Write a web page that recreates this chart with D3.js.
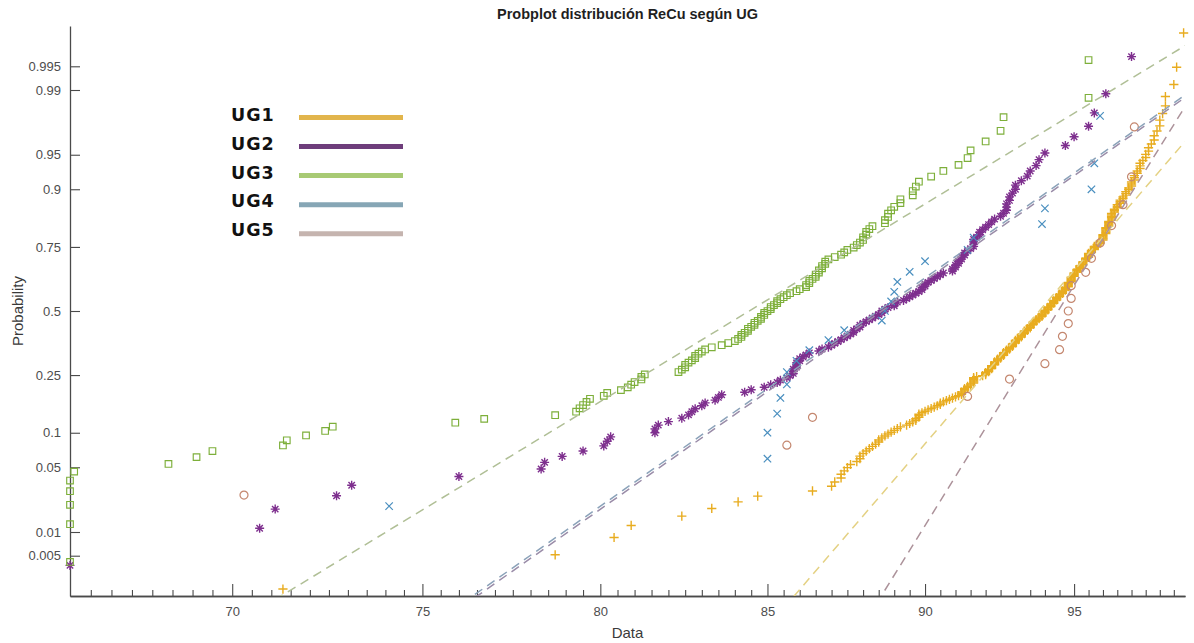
<!DOCTYPE html>
<html>
<head>
<meta charset="utf-8">
<script src="https://cdn.jsdelivr.net/npm/d3@7"></script>
<style>
  html, body { margin: 0; padding: 0; background: #fff; }
  svg { display: block; font-family: "Liberation Sans", Arial, Helvetica, sans-serif; }
</style>
</head>
<body>
<svg id="chart" width="1194" height="643"></svg>
<script>
// ---- sample values per group (ReCu, sorted ascending) ----
const groups = ["UG1", "UG2", "UG3", "UG4", "UG5"];

const ug1 = [71.3, 78.7, 80.4, 80.9, 82.4, 83.3, 84.1, 84.7, 86.4, 87.0,
  87.1, 87.3, 87.3, 87.4, 87.5, 87.6, 87.8, 87.9, 87.9, 88.0,
  88.1, 88.2, 88.3, 88.4, 88.5, 88.5, 88.6, 88.7, 88.8, 88.9,
  89.0, 89.1, 89.2, 89.4, 89.5, 89.6, 89.7, 89.7, 89.8, 89.8,
  89.8, 89.9, 90.0, 90.1, 90.2, 90.3, 90.4, 90.5, 90.5, 90.6,
  90.7, 90.8, 90.9, 91.0, 91.1, 91.2, 91.2, 91.2, 91.3, 91.3,
  91.3, 91.4, 91.4, 91.5, 91.5, 91.6, 91.6, 91.6, 91.6, 91.6,
  91.6, 91.7, 91.9, 92.0, 92.0, 92.0, 92.1, 92.1, 92.1, 92.2,
  92.2, 92.2, 92.2, 92.3, 92.3, 92.3, 92.3, 92.4, 92.4, 92.4,
  92.5, 92.5, 92.5, 92.6, 92.6, 92.6, 92.6, 92.7, 92.7, 92.7,
  92.8, 92.8, 92.8, 92.9, 92.9, 92.9, 92.9, 93.0, 93.0, 93.0,
  93.0, 93.1, 93.1, 93.1, 93.2, 93.2, 93.2, 93.2, 93.3, 93.3,
  93.3, 93.3, 93.4, 93.4, 93.4, 93.5, 93.5, 93.5, 93.5, 93.6,
  93.6, 93.6, 93.6, 93.7, 93.7, 93.7, 93.8, 93.8, 93.8, 93.9,
  93.9, 93.9, 93.9, 94.0, 94.0, 94.0, 94.0, 94.1, 94.1, 94.1,
  94.1, 94.2, 94.2, 94.2, 94.2, 94.3, 94.3, 94.3, 94.3, 94.4,
  94.4, 94.4, 94.4, 94.5, 94.5, 94.5, 94.5, 94.6, 94.6, 94.6,
  94.6, 94.7, 94.7, 94.7, 94.7, 94.8, 94.8, 94.8, 94.8, 94.8,
  94.8, 94.9, 94.9, 94.9, 94.9, 94.9, 94.9, 95.0, 95.0, 95.0,
  95.0, 95.0, 95.1, 95.1, 95.1, 95.1, 95.2, 95.2, 95.2, 95.2,
  95.3, 95.3, 95.3, 95.3, 95.4, 95.4, 95.4, 95.4, 95.5, 95.5,
  95.5, 95.5, 95.5, 95.6, 95.6, 95.6, 95.7, 95.7, 95.7, 95.7,
  95.8, 95.8, 95.9, 95.9, 95.9, 96.0, 96.0, 96.0, 96.0, 96.0,
  96.0, 96.1, 96.1, 96.1, 96.1, 96.1, 96.1, 96.2, 96.2, 96.2,
  96.2, 96.2, 96.3, 96.3, 96.3, 96.3, 96.3, 96.3, 96.4, 96.4,
  96.4, 96.5, 96.5, 96.5, 96.6, 96.6, 96.6, 96.7, 96.7, 96.8,
  96.8, 96.8, 96.9, 96.9, 97.0, 97.0, 97.0, 97.1, 97.1, 97.1,
  97.2, 97.2, 97.3, 97.3, 97.3, 97.4, 97.5, 97.5, 97.6, 97.6,
  97.7, 97.8, 97.8, 97.9, 98.0, 98.0, 98.1, 98.2, 98.2, 98.5,
  98.6, 98.85];

const ug2 = [66.0, 70.7, 71.1, 72.7, 73.1, 76.0, 78.3, 78.4, 78.9, 79.5,
  80.1, 80.2, 80.3, 81.6, 81.6, 81.7, 82.0, 82.4, 82.6, 82.7,
  82.8, 83.0, 83.1, 83.4, 83.5, 83.6, 84.3, 84.5, 84.9, 85.1,
  85.3, 85.4, 85.6, 85.7, 85.8, 85.8, 85.8, 85.9, 85.9, 85.9,
  86.0, 86.0, 86.1, 86.2, 86.3, 86.6, 86.7, 86.9, 87.0, 87.1,
  87.2, 87.3, 87.4, 87.5, 87.6, 87.7, 87.7, 87.8, 87.9, 87.9,
  88.0, 88.1, 88.2, 88.3, 88.4, 88.5, 88.6, 88.6, 88.7, 88.8,
  89.0, 89.0, 89.1, 89.3, 89.4, 89.5, 89.6, 89.7, 89.8, 89.9,
  89.9, 90.0, 90.0, 90.1, 90.2, 90.3, 90.4, 90.5, 90.6, 90.9,
  90.9, 91.0, 91.0, 91.1, 91.1, 91.2, 91.2, 91.3, 91.3, 91.4,
  91.5, 91.6, 91.6, 91.6, 91.6, 91.7, 91.8, 91.8, 91.9, 92.0,
  92.1, 92.2, 92.3, 92.5, 92.6, 92.7, 92.7, 92.7, 92.8, 92.8,
  92.9, 93.0, 93.0, 93.2, 93.4, 93.5, 93.7, 93.8, 94.0, 94.7,
  95.0, 95.5, 95.7, 96.1, 97.0];

const ug3 = [66.0, 66.0, 66.0, 66.0, 66.0, 66.1, 68.4, 69.1, 69.5, 71.3,
  71.4, 71.9, 72.4, 72.6, 75.9, 76.7, 78.7, 79.3, 79.4, 79.5,
  79.6, 79.7, 80.1, 80.2, 80.6, 80.8, 80.9, 81.0, 81.2, 81.2,
  81.3, 82.3, 82.4, 82.5, 82.5, 82.6, 82.7, 82.8, 82.8, 82.9,
  83.0, 83.1, 83.3, 83.6, 83.8, 84.0, 84.1, 84.2, 84.2, 84.3,
  84.4, 84.4, 84.5, 84.6, 84.6, 84.7, 84.8, 84.8, 84.9, 84.9,
  85.0, 85.1, 85.1, 85.2, 85.3, 85.3, 85.4, 85.5, 85.6, 85.7,
  85.9, 86.0, 86.2, 86.2, 86.3, 86.3, 86.4, 86.5, 86.5, 86.6,
  86.6, 86.7, 86.7, 86.8, 86.8, 86.9, 87.1, 87.3, 87.4, 87.5,
  87.7, 87.8, 87.9, 88.0, 88.0, 88.1, 88.1, 88.2, 88.3, 88.7,
  88.7, 88.8, 88.8, 88.9, 89.0, 89.2, 89.2, 89.6, 89.6, 89.7,
  89.8, 90.2, 90.6, 91.1, 91.4, 91.5, 92.0, 92.5, 92.6, 95.5,
  95.5];

const ug4 = [74.1, 85.0, 85.0, 85.3, 85.4, 85.6, 85.6, 85.9, 86.3, 86.9,
  87.4, 88.6, 88.7, 88.9, 89.0, 89.1, 89.5, 90.0, 91.4, 91.6,
  93.9, 94.0, 95.6, 95.7, 95.9];

const ug5 = [70.3, 85.6, 86.4, 91.4, 92.8, 94.0, 94.5, 94.6, 94.8, 94.8,
  94.9, 94.9, 95.4, 95.6, 95.9, 96.3, 96.7, 97.0, 97.1];

const seriesValues = [ug1, ug2, ug3, ug4, ug5];

// ---- axis ticks ----
const probTicks = [0.005, 0.01, 0.05, 0.1, 0.25, 0.5, 0.75, 0.9, 0.95, 0.99, 0.995];
const probTickLabels = ["0.005", "0.01", "0.05", "0.1", "0.25", "0.5", "0.75", "0.9", "0.95", "0.99", "0.995"];
const xMajorTicks = [70, 75, 80, 85, 90, 95];
const xMajorLabels = ["70", "75", "80", "85", "90", "95"];
const xLimits = [66, 98.9];
const zLimits = [-3, 3];

// ---- styles ----
const markerShapes = ["plus", "star", "square", "cross", "circle"];
const markerColors = ["#E8AC1F", "#7E2F8E", "#7DAF3A", "#4A8FBF", "#C4876F"];
const markerStroke = [1.4, 1.4, 1.15, 1.2, 1.2];
const refLineColors = ["#E4D183", "#9A8CA8", "#B0BF96", "#8BA2B9", "#AC929A"];
const legendColors = ["#E2B54C", "#6E3D7B", "#A8CA74", "#86A6B5", "#C5B4AF"];

// inverse of the standard normal CDF (Acklam's rational approximation)
function probit(p) {
  const a = [-3.969683028665376e+01, 2.209460984245205e+02, -2.759285104469687e+02,
             1.383577518672690e+02, -3.066479806614716e+01, 2.506628277459239e+00];
  const b = [-5.447609879822406e+01, 1.615858368580409e+02, -1.556989798598866e+02,
             6.680131188771972e+01, -1.328068155288572e+01];
  const c = [-7.784894002430293e-03, -3.223964580411365e-01, -2.400758277161838e+00,
             -2.549732539343734e+00, 4.374664141464968e+00, 2.938163982698783e+00];
  const d = [7.784695709041462e-03, 3.224671290700398e-01, 2.445134137142996e+00,
             3.754408661907416e+00];
  const pl = 0.02425, ph = 1 - pl;
  let q, r;
  if (p < pl) {
    q = Math.sqrt(-2 * Math.log(p));
    return (((((c[0]*q+c[1])*q+c[2])*q+c[3])*q+c[4])*q+c[5]) / ((((d[0]*q+d[1])*q+d[2])*q+d[3])*q+1);
  }
  if (p > ph) {
    q = Math.sqrt(-2 * Math.log(1 - p));
    return -(((((c[0]*q+c[1])*q+c[2])*q+c[3])*q+c[4])*q+c[5]) / ((((d[0]*q+d[1])*q+d[2])*q+d[3])*q+1);
  }
  q = p - 0.5; r = q * q;
  return (((((a[0]*r+a[1])*r+a[2])*r+a[3])*r+a[4])*r+a[5])*q / (((((b[0]*r+b[1])*r+b[2])*r+b[3])*r+b[4])*r+1);
}

// percentile with plotting positions (i-0.5)/n and linear interpolation
function prctile(sorted, pct) {
  const n = sorted.length;
  const pos = n * pct / 100 + 0.5;
  if (pos <= 1) return sorted[0];
  if (pos >= n) return sorted[n - 1];
  const lo = Math.floor(pos), f = pos - lo;
  return sorted[lo - 1] + f * (sorted[lo] - sorted[lo - 1]);
}

const svg = d3.select("#chart");
const plot = { left: 70, right: 1185, top: 26, bottom: 596 };

const x = d3.scaleLog().domain(xLimits).range([plot.left, plot.right]);
const y = d3.scaleLinear().domain(zLimits).range([plot.bottom, plot.top]);

svg.append("defs").append("clipPath").attr("id", "plotClip")
  .append("rect")
  .attr("x", plot.left).attr("y", plot.top)
  .attr("width", plot.right - plot.left).attr("height", plot.bottom - plot.top);

// ---- axes ----
const axisColor = "#4a4a4a";
const labelColor = "#4d4d4d";

const yAxis = d3.axisLeft(y)
  .tickValues(probTicks.map(probit))
  .tickFormat((d, i) => probTickLabels[i])
  .tickSize(-10).tickSizeOuter(0).tickPadding(9);
const gy = svg.append("g").attr("transform", `translate(${plot.left},0)`).call(yAxis);

const xMinor = d3.range(133, 198).map(v => v / 2).filter(v => !xMajorTicks.includes(v));
const gxMinor = svg.append("g").attr("transform", `translate(0,${plot.bottom})`)
  .call(d3.axisBottom(x).tickValues(xMinor).tickFormat("").tickSize(-6).tickSizeOuter(0));
const gx = svg.append("g").attr("transform", `translate(0,${plot.bottom})`)
  .call(d3.axisBottom(x).tickValues(xMajorTicks)
    .tickFormat((d, i) => xMajorLabels[i]).tickSize(-12).tickSizeOuter(0).tickPadding(11));

[gy, gx, gxMinor].forEach(g => {
  g.attr("font-family", null).attr("font-size", null);
  g.selectAll("path.domain").attr("stroke", axisColor).attr("stroke-width", 1.3);
  g.selectAll(".tick line").attr("stroke", axisColor).attr("stroke-width", 1.1);
  g.selectAll(".tick text").attr("fill", labelColor).style("font-size", "13px");
});

svg.append("text")
  .attr("x", (plot.left + plot.right) / 2).attr("y", 637.5)
  .attr("text-anchor", "middle").attr("fill", "#3a3a3a")
  .style("font-size", "15px").text("Data");

svg.append("text")
  .attr("transform", `translate(18,${y(0)}) rotate(-90)`)
  .attr("text-anchor", "middle").attr("dy", "0.35em").attr("fill", "#3a3a3a")
  .style("font-size", "15px").text("Probability");

svg.append("text")
  .attr("x", (plot.left + plot.right) / 2).attr("y", 19)
  .attr("text-anchor", "middle").attr("fill", "#1f1f1f")
  .style("font-size", "14.5px").style("font-weight", "bold")
  .text("Probplot distribución ReCu según UG");

// ---- markers ----
function markerPath(shape) {
  switch (shape) {
    case "plus":   { const s = 4.6; return `M${-s},0H${s}M0,${-s}V${s}`; }
    case "cross":  { const s = 3.7; return `M${-s},${-s}L${s},${s}M${-s},${s}L${s},${-s}`; }
    case "star":   { const s = 4.5, t = 3.2;
                     return `M${-s},0H${s}M0,${-s}V${s}M${-t},${-t}L${t},${t}M${-t},${t}L${t},${-t}`; }
    case "square": { const s = 3.3; return `M${-s},${-s}H${s}V${s}H${-s}Z`; }
    case "circle": { const r = 4.0; return `M${r},0A${r},${r},0,1,1,${-r},0A${r},${r},0,1,1,${r},0Z`; }
  }
}

const pointsLayer = svg.append("g");
seriesValues.forEach((vals, gi) => {
  const n = vals.length;
  const pts = vals.map((v, i) => ({ v, z: probit((i + 0.5) / n) }));
  pointsLayer.append("g")
    .selectAll("path")
    .data(pts)
    .join("path")
    .attr("transform", d => `translate(${x(d.v)},${y(d.z)})`)
    .attr("d", markerPath(markerShapes[gi]))
    .attr("fill", "none")
    .attr("stroke", markerColors[gi])
    .attr("stroke-width", markerStroke[gi]);
});

// ---- reference lines through the first and third quartiles ----
const zq1 = probit(0.25), zq3 = probit(0.75);
const refLayer = svg.append("g").attr("clip-path", "url(#plotClip)");
seriesValues.forEach((vals, gi) => {
  const q1 = prctile(vals, 25), q3 = prctile(vals, 75);
  const slope = (zq3 - zq1) / (Math.log(q3) - Math.log(q1));
  const zAt = v => zq1 + slope * (Math.log(v) - Math.log(q1));
  const ends = xLimits.map(v => [x(v), y(zAt(v))]);
  refLayer.append("path")
    .attr("d", d3.line()(ends))
    .attr("fill", "none")
    .attr("stroke", refLineColors[gi])
    .attr("stroke-width", 1.5)
    .attr("stroke-dasharray", "9,6");
});

// ---- legend ----
const legend = svg.append("g");
groups.forEach((name, i) => {
  legend.append("text")
    .attr("x", 231).attr("y", 121.3 + i * 28.7)
    .attr("fill", "#111")
    .style("font-family", "'DejaVu Sans', sans-serif")
    .style("font-weight", "bold").style("font-size", "17.5px")
    .style("letter-spacing", "1px")
    .text(name);
  legend.append("line")
    .attr("x1", 299).attr("x2", 403)
    .attr("y1", 117.5 + i * 29.05).attr("y2", 117.5 + i * 29.05)
    .attr("stroke", legendColors[i]).attr("stroke-width", 5);
});
</script>
</body>
</html>
